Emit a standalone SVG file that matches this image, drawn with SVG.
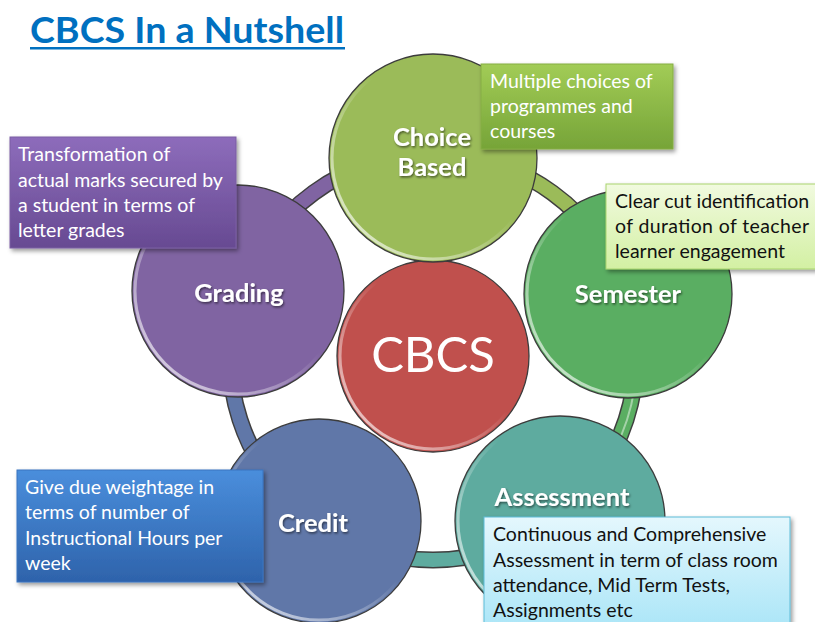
<svg xmlns="http://www.w3.org/2000/svg" width="815" height="622" viewBox="0 0 815 622">
<defs>
<style>
.ring-out{fill:none;stroke:#3f3f3f;stroke-width:17}
.ring-in{fill:none;stroke-width:14}
.ring-hi{fill:none;stroke:#ffffff;stroke-width:2;stroke-opacity:0.45}
.node{stroke:#3c3c3c;stroke-width:1.3}
.bevel{fill:none;stroke:url(#bevel);stroke-width:3}
.lbl{font-family:Lato,"Liberation Sans",sans-serif;font-weight:bold;font-size:25.5px;fill:#ffffff;text-anchor:middle;filter:url(#tshadow)}
.note{font-family:Lato,"Liberation Sans",sans-serif;font-size:19.5px}
.white{fill:#ffffff}
.dark{fill:#111111}
</style>
<linearGradient id="bevel" x1="1" y1="0" x2="0" y2="1">
<stop offset="0.45" stop-color="#ffffff" stop-opacity="0"/>
<stop offset="1" stop-color="#ffffff" stop-opacity="0.85"/>
</linearGradient>
<linearGradient id="gChoice" x1="0" y1="0" x2="0" y2="1">
<stop offset="0" stop-color="#a2cc56"/><stop offset="1" stop-color="#76a438"/>
</linearGradient>
<linearGradient id="gGrading" x1="0" y1="0" x2="0" y2="1">
<stop offset="0" stop-color="#8d6cbb"/><stop offset="1" stop-color="#674a92"/>
</linearGradient>
<linearGradient id="gSemester" x1="0" y1="0" x2="0" y2="1">
<stop offset="0" stop-color="#f1fadf"/><stop offset="1" stop-color="#d3f0a3"/>
</linearGradient>
<linearGradient id="gCredit" x1="0" y1="0" x2="0" y2="1">
<stop offset="0" stop-color="#4a8edc"/><stop offset="1" stop-color="#2e63ab"/>
</linearGradient>
<linearGradient id="gAssess" x1="0" y1="0" x2="0" y2="1">
<stop offset="0" stop-color="#e4f7fd"/><stop offset="1" stop-color="#a9e5f7"/>
</linearGradient>
<filter id="shadow" x="-10%" y="-10%" width="130%" height="130%">
<feDropShadow dx="2" dy="2.5" stdDeviation="2" flood-color="#000000" flood-opacity="0.4"/>
</filter>
<filter id="tshadow" x="-10%" y="-20%" width="130%" height="150%">
<feDropShadow dx="1" dy="1.5" stdDeviation="1" flood-color="#000000" flood-opacity="0.55"/>
</filter>
</defs>

<rect width="815" height="622" fill="#ffffff"/>

<g id="title">
<text x="30" y="43" font-family="Lato,'Liberation Sans',sans-serif" font-weight="bold" font-size="37" fill="#0070c0" textLength="314" lengthAdjust="spacingAndGlyphs">CBCS In a Nutshell</text>
<rect x="30" y="47" width="315" height="2.5" fill="#0070c0"/>
</g>

<g id="connectors">
<path class="ring-out" d="M 239.93 294.27 A 203 203 0 0 1 433 154"/>
<path class="ring-in" stroke="#8064a2" d="M 239.93 294.27 A 203 203 0 0 1 433 154"/>
<path class="ring-out" d="M 433 154 A 203 203 0 0 1 626.07 294.27"/>
<path class="ring-in" stroke="#9bbb59" d="M 433 154 A 203 203 0 0 1 626.07 294.27"/>
<path class="ring-out" d="M 626.07 294.27 A 203 203 0 0 1 552.32 521.23"/>
<path class="ring-in" stroke="#5aae62" d="M 626.07 294.27 A 203 203 0 0 1 552.32 521.23"/>
<path class="ring-hi" d="M 626.07 294.27 A 199 199 0 0 1 552.32 521.23"/>
<path class="ring-out" d="M 552.32 521.23 A 203 203 0 0 1 313.68 521.23"/>
<path class="ring-in" stroke="#5eab9f" d="M 552.32 521.23 A 203 203 0 0 1 313.68 521.23"/>
<path class="ring-out" d="M 313.68 521.23 A 203 203 0 0 1 239.93 294.27"/>
<path class="ring-in" stroke="#6077a8" d="M 313.68 521.23 A 203 203 0 0 1 239.93 294.27"/>
</g>

<g id="node-cbcs">
<circle class="node" cx="433" cy="356" r="96" fill="#c0504d"/>
<circle class="bevel" cx="433" cy="356" r="93"/>
<text x="433" y="372" font-family="Lato,'Liberation Sans',sans-serif" font-size="49" fill="#ffffff" text-anchor="middle">CBCS</text>
</g>

<g id="node-choice">
<circle class="node" cx="433" cy="158" r="104" fill="#9bbb59"/>
<circle class="bevel" cx="433" cy="158" r="101"/>
<text class="lbl" x="432" y="146">Choice</text>
<text class="lbl" x="432" y="176">Based</text>
</g>

<g id="node-semester">
<circle class="node" cx="628" cy="294" r="104" fill="#5aae62"/>
<circle class="bevel" cx="628" cy="294" r="101"/>
<text class="lbl" x="628" y="303">Semester</text>
</g>

<g id="node-assessment">
<circle class="node" cx="560" cy="521" r="105" fill="#5eab9f"/>
<circle class="bevel" cx="560" cy="521" r="102"/>
<text class="lbl" x="562" y="506">Assessment</text>
</g>

<g id="node-credit">
<circle class="node" cx="319" cy="521" r="102" fill="#6077a8"/>
<circle class="bevel" cx="319" cy="521" r="99"/>
<text class="lbl" x="313" y="532">Credit</text>
</g>

<g id="node-grading">
<circle class="node" cx="238" cy="291" r="106" fill="#8064a2"/>
<circle class="bevel" cx="238" cy="291" r="103"/>
<text class="lbl" x="239" y="302">Grading</text>
</g>

<g id="note-choice">
<rect x="481" y="64" width="192" height="85" fill="url(#gChoice)" stroke="#86ad45" stroke-width="1" filter="url(#shadow)"/>
<text class="note white" x="490" y="88">Multiple choices of</text>
<text class="note white" x="490" y="113">programmes and</text>
<text class="note white" x="490" y="138">courses</text>
</g>

<g id="note-grading">
<rect x="10" y="137" width="226" height="111" fill="url(#gGrading)" stroke="#7a5ea3" stroke-width="1" filter="url(#shadow)"/>
<text class="note white" x="18" y="161">Transformation of</text>
<text class="note white" x="18" y="187">actual marks secured by</text>
<text class="note white" x="18" y="212">a student in terms of</text>
<text class="note white" x="18" y="237">letter grades</text>
</g>

<g id="note-semester">
<rect x="606" y="184" width="215" height="85" fill="url(#gSemester)" stroke="#a9d46e" stroke-width="1" filter="url(#shadow)"/>
<text class="note dark" x="615" y="208">Clear cut identification</text>
<text class="note dark" x="615" y="233" textLength="194" lengthAdjust="spacing">of duration of teacher</text>
<text class="note dark" x="615" y="258">learner engagement</text>
</g>

<g id="note-credit">
<rect x="17" y="470" width="246" height="112" fill="url(#gCredit)" stroke="#3a74c0" stroke-width="1" filter="url(#shadow)"/>
<text class="note white" x="25" y="494">Give due weightage in</text>
<text class="note white" x="25" y="519">terms of number of</text>
<text class="note white" x="25" y="545">Instructional Hours per</text>
<text class="note white" x="25" y="570">week</text>
</g>

<g id="note-assessment">
<rect x="484" y="517" width="306" height="115" fill="url(#gAssess)" stroke="#5cbcd8" stroke-width="1" filter="url(#shadow)"/>
<text class="note dark" x="493" y="541">Continuous and Comprehensive</text>
<text class="note dark" x="493" y="567">Assessment in term of class room</text>
<text class="note dark" x="493" y="592">attendance, Mid Term Tests,</text>
<text class="note dark" x="493" y="617">Assignments etc</text>
</g>
</svg>
